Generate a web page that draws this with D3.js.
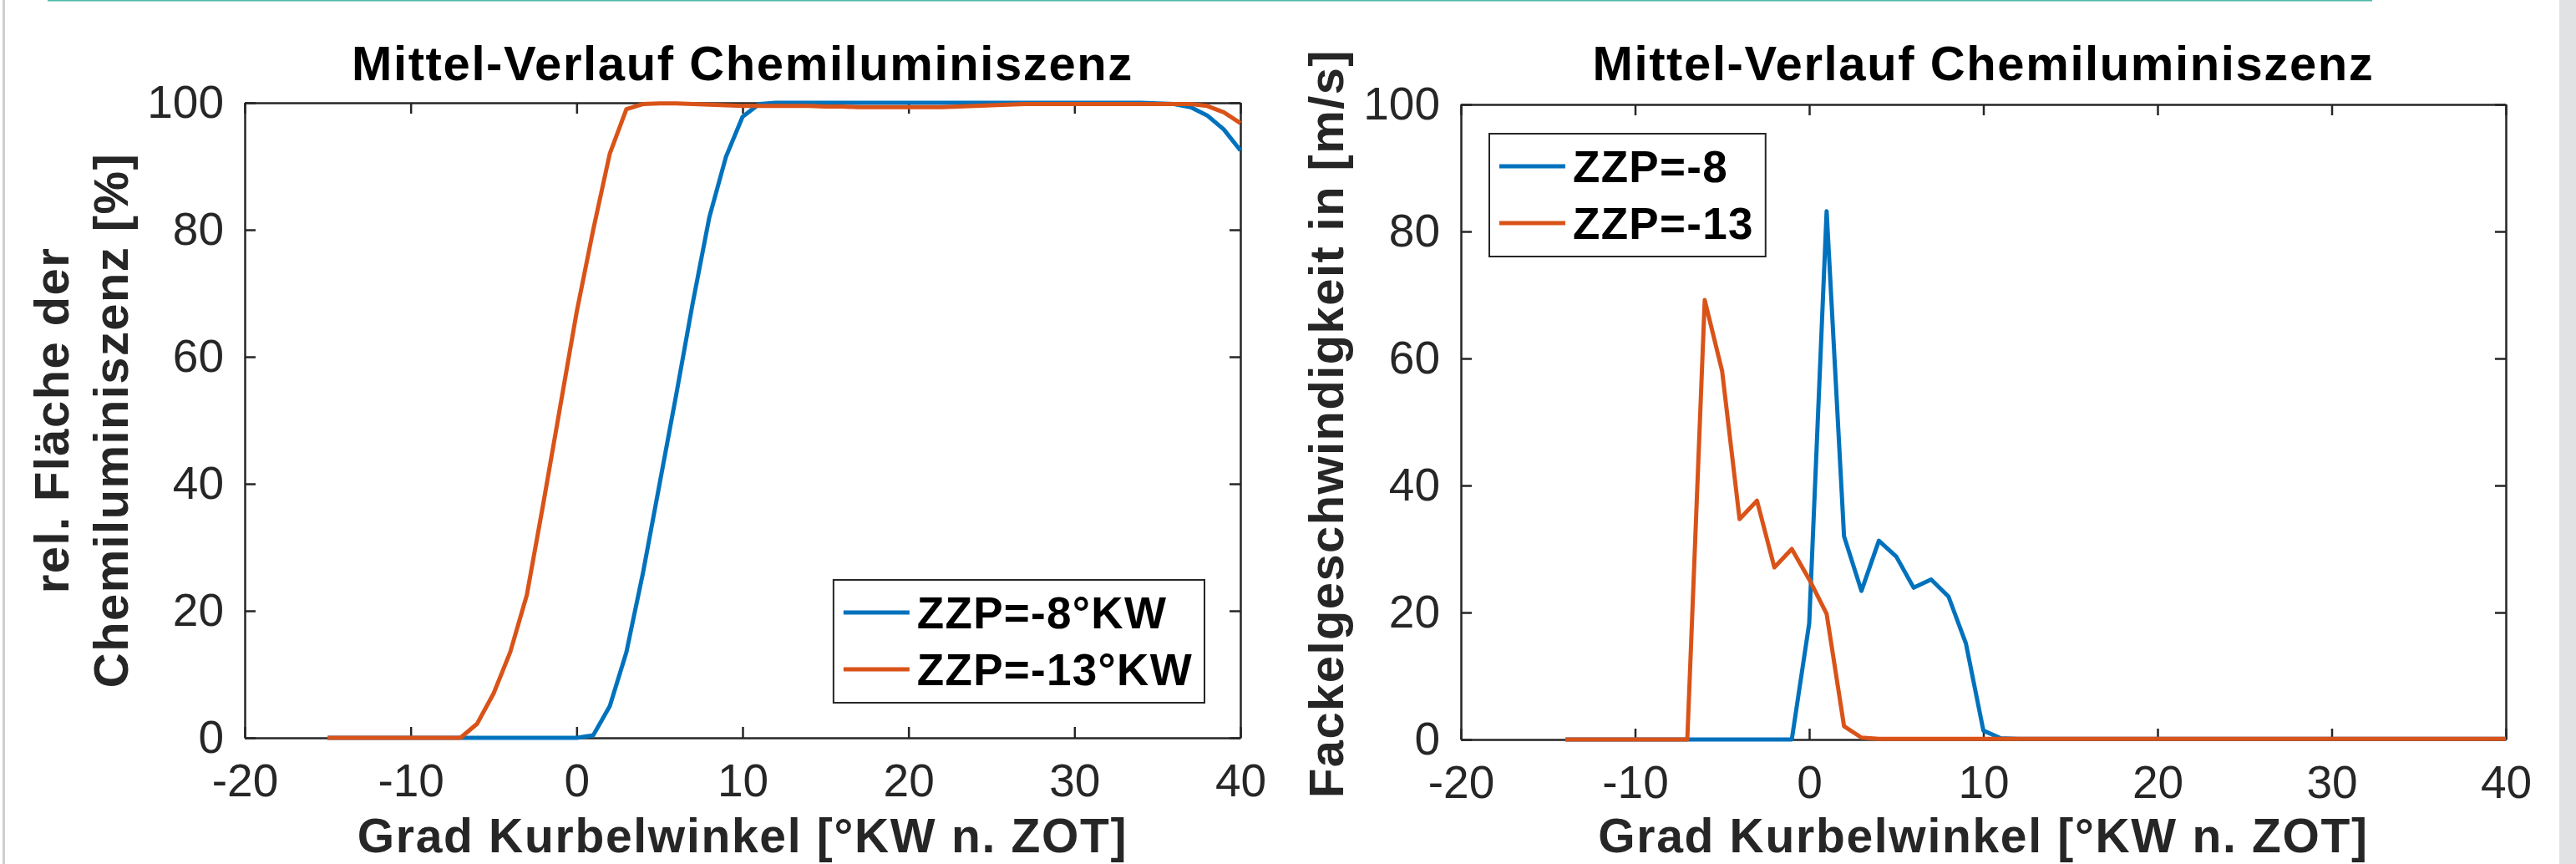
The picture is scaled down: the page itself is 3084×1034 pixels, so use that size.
<!DOCTYPE html>
<html>
<head>
<meta charset="utf-8">
<script src="https://cdn.jsdelivr.net/npm/d3@7"></script>
<style>
  body { margin: 0; background: #fff; }
  svg { display: block; }
  text { font-family: "Liberation Sans", Arial, Helvetica, sans-serif; }
</style>
</head>
<body>
<svg width="3084" height="1034"></svg>
<script>
// crank angle [°KW n. ZOT]
var angleLeft = [-15, -14, -13, -12, -11, -10, -9, -8, -7, -6, -5, -4, -3, -2, -1, 0,
  1, 2, 3, 4, 5, 6, 7, 8, 9, 10, 11, 12, 13, 14, 15, 16, 17, 18, 19, 20,
  21, 22, 23, 24, 25, 26, 27, 28, 29, 30, 31, 32, 33, 34, 35, 36, 37, 38, 39, 40];
var angleRight = [-14, -13, -12, -11, -10, -9, -8, -7, -6, -5, -4, -3, -2, -1, 0,
  1, 2, 3, 4, 5, 6, 7, 8, 9, 10, 11, 12, 13, 14, 15, 16, 17, 18, 19, 20,
  21, 22, 23, 24, 25, 26, 27, 28, 29, 30, 31, 32, 33, 34, 35, 36, 37, 38, 39, 40];

// rel. Fläche der Chemiluminiszenz [%]
var areaZZP8 = [0, 0, 0, 0, 0, 0, 0, 0, 0, 0, 0, 0, 0, 0, 0, 0,
  0.4, 5, 13.5, 26, 40, 54, 68.5, 82, 91.5, 97.8, 99.8, 100, 100, 100, 100, 100, 100, 100, 100, 100,
  100, 100, 100, 100, 100, 100, 100, 100, 100, 100, 100, 100, 100, 100, 99.9, 99.8, 99.3, 98, 95.8, 92.5];
var areaZZP13 = [0, 0, 0, 0, 0, 0, 0, 0, 0, 2.2, 7, 13.5, 22.5, 37, 52, 67,
  80, 92, 99, 99.8, 99.9, 99.9, 99.8, 99.7, 99.6, 99.5, 99.5, 99.5, 99.5, 99.5, 99.4, 99.4, 99.3, 99.3, 99.3, 99.3,
  99.3, 99.3, 99.4, 99.5, 99.6, 99.7, 99.8, 99.8, 99.8, 99.8, 99.8, 99.8, 99.8, 99.8, 99.8, 99.8, 99.8, 99.5, 98.5, 96.8];

// Fackelgeschwindigkeit [m/s]
var speedZZP8 = [0, 0, 0, 0, 0, 0, 0, 0, 0, 0, 0, 0, 0, 0, 18.3,
  83.2, 32, 23.4, 31.3, 28.8, 23.9, 25.2, 22.5, 15.1, 1.4, 0.2, 0.1, 0.1, 0.1, 0.1, 0.1, 0.1, 0.1, 0.1, 0.1,
  0.1, 0.1, 0.1, 0.1, 0.1, 0.1, 0.1, 0.1, 0.1, 0.1, 0.1, 0.1, 0.1, 0.1, 0.1, 0.1, 0.1, 0.1, 0.1, 0.1];
var speedZZP13 = [0, 0, 0, 0, 0, 0, 0, 0, 69.2, 58, 34.7, 37.6, 27.1, 30, 25.2,
  19.8, 2.1, 0.3, 0.1, 0.1, 0.1, 0.1, 0.1, 0.1, 0.1, 0.1, 0.1, 0.1, 0.1, 0.1, 0.1, 0.1, 0.1, 0.1, 0.1,
  0.1, 0.1, 0.1, 0.1, 0.1, 0.1, 0.1, 0.1, 0.1, 0.1, 0.1, 0.1, 0.1, 0.1, 0.1, 0.1, 0.1, 0.1, 0.1, 0.1];

var xTicks = [-20, -10, 0, 10, 20, 30, 40];
var yTicks = [0, 20, 40, 60, 80, 100];
var titleText = "Mittel-Verlauf Chemiluminiszenz";
var xLabel = "Grad Kurbelwinkel [°KW n. ZOT]";
var legendLeft = ["ZZP=-8°KW", "ZZP=-13°KW"];
var legendRight = ["ZZP=-8", "ZZP=-13"];

var blue = "#0072bd", orange = "#d95319", axisColor = "#262626";

var svg = d3.select("svg");

// page decorations around the figure
svg.append("rect").attr("x", 3).attr("y", 0).attr("width", 3).attr("height", 1034).attr("fill", "#cfcfcf");
svg.append("rect").attr("x", 57).attr("y", 0).attr("width", 2783).attr("height", 1.5).attr("fill", "#4cb8a8");
svg.append("rect").attr("x", 3064).attr("y", 0).attr("width", 20).attr("height", 1034).attr("fill", "#e1e2e4");

// plain hyphen minus like the original figure
var fmt = function (d) { return String(d); };

function panel(opt) {
  var x = d3.scaleLinear().domain([-20, 40]).range([opt.x0, opt.x1]);
  var y = d3.scaleLinear().domain([0, 100]).range([opt.y1, opt.y0]);
  var g = svg.append("g");

  // axes box, ticks inside
  var ax = [
    d3.axisBottom(x).tickValues(xTicks).tickSizeInner(-13).tickSizeOuter(0).tickPadding(31).tickFormat(fmt),
    d3.axisTop(x).tickValues(xTicks).tickSizeInner(-13).tickSizeOuter(0).tickFormat(""),
    d3.axisLeft(y).tickValues(yTicks).tickSizeInner(-13).tickSizeOuter(0).tickPadding(25).tickFormat(fmt),
    d3.axisRight(y).tickValues(yTicks).tickSizeInner(-13).tickSizeOuter(0).tickFormat("")
  ];
  var pos = ["translate(0," + opt.y1 + ")", "translate(0," + opt.y0 + ")",
             "translate(" + opt.x0 + ",0)", "translate(" + opt.x1 + ",0)"];
  ax.forEach(function (a, i) {
    var ag = g.append("g").attr("transform", pos[i]).call(a);
    ag.selectAll("path, line").attr("stroke", axisColor).attr("stroke-width", 2.5);
    ag.selectAll("text").attr("font-size", 55).attr("fill", axisColor).attr("font-family", null);
  });

  // lines
  var line = d3.line().x(function (d) { return x(d[0]); }).y(function (d) { return y(d[1]); });
  opt.series.forEach(function (s) {
    g.append("path")
      .datum(d3.zip(opt.angles, s.values))
      .attr("d", line)
      .attr("fill", "none")
      .attr("stroke", s.color)
      .attr("stroke-width", 5)
      .attr("stroke-linejoin", "round");
  });

  // title
  g.append("text")
    .attr("x", (opt.x0 + opt.x1) / 2).attr("y", 96)
    .attr("text-anchor", "middle")
    .attr("font-size", 58).attr("font-weight", "bold")
    .attr("letter-spacing", 1.6)
    .text(titleText);

  // x label
  g.append("text")
    .attr("x", (opt.x0 + opt.x1) / 2).attr("y", 1020)
    .attr("text-anchor", "middle")
    .attr("font-size", 57).attr("font-weight", "bold")
    .attr("letter-spacing", 1.7)
    .attr("fill", axisColor)
    .text(xLabel);

  // y label (one or two lines)
  opt.yLabel.forEach(function (t, i) {
    g.append("text")
      .attr("transform", "translate(" + opt.yLabelX[i] + "," + opt.yLabelY + ") rotate(-90)")
      .attr("text-anchor", "middle")
      .attr("font-size", 58).attr("font-weight", "bold")
      .attr("letter-spacing", 1.4)
      .attr("fill", axisColor)
      .text(t);
  });

  // legend
  var lg = g.append("g");
  var box = lg.append("rect").attr("fill", "#fff").attr("stroke", axisColor).attr("stroke-width", 2);
  var texts = opt.series.map(function (s, i) {
    lg.append("line")
      .attr("x1", 12).attr("x2", 91)
      .attr("y1", 39 + i * 68).attr("y2", 39 + i * 68)
      .attr("stroke", s.color).attr("stroke-width", 5);
    return lg.append("text")
      .attr("x", 100).attr("y", 39 + i * 68).attr("dy", "0.36em")
      .attr("font-size", 53).attr("font-weight", "bold")
      .attr("letter-spacing", 1.3)
      .text(opt.legend[i]);
  });
  var tw = d3.max(texts, function (t) { return t.node().getComputedTextLength(); });
  var bw = 100 + tw + 14, bh = 147;
  box.attr("width", bw).attr("height", bh);
  var lx = opt.legendPos === "br" ? opt.x1 - 43 - bw : opt.x0 + 34;
  var ly = opt.legendPos === "br" ? opt.y1 - 42 - bh : opt.y0 + 35;
  lg.attr("transform", "translate(" + lx + "," + ly + ")");
}

panel({
  x0: 293, x1: 1485, y0: 123, y1: 883,
  angles: angleLeft,
  series: [{ values: areaZZP8, color: blue }, { values: areaZZP13, color: orange }],
  legend: legendLeft, legendPos: "br",
  yLabel: ["rel. Fläche der", "Chemiluminiszenz [%]"], yLabelX: [82, 153], yLabelY: 503
});

panel({
  x0: 1749, x1: 3000, y0: 125, y1: 885,
  angles: angleRight,
  series: [{ values: speedZZP8, color: blue }, { values: speedZZP13, color: orange }],
  legend: legendRight, legendPos: "tl",
  yLabel: ["Fackelgeschwindigkeit in [m/s]"], yLabelX: [1608], yLabelY: 507
});
</script>
</body>
</html>
